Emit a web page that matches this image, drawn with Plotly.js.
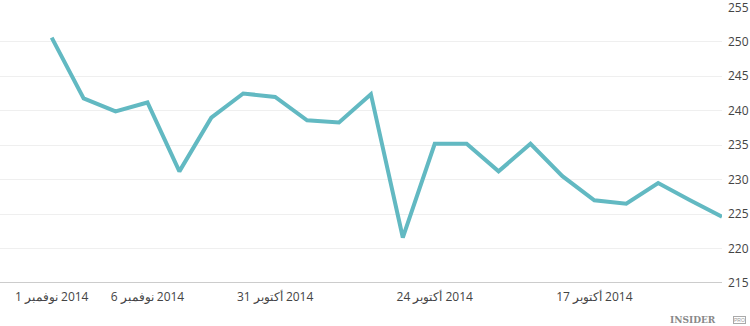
<!DOCTYPE html>
<html>
<head>
<meta charset="utf-8">
<script src="https://cdn.plot.ly/plotly-3.0.1.min.js"></script>
<style>html,body{margin:0;padding:0;background:#fff;}#chart{width:750px;height:326px;}</style>
</head>
<body>
<div id="chart"></div>
<script>
// Trading dates, newest first (axis runs right-to-left in time)
const dates = ["2014-11-11","2014-11-10","2014-11-07","2014-11-06","2014-11-05","2014-11-04","2014-11-03",
  "2014-10-31","2014-10-30","2014-10-29","2014-10-28","2014-10-27","2014-10-24","2014-10-23","2014-10-22",
  "2014-10-21","2014-10-20","2014-10-17","2014-10-16","2014-10-15","2014-10-14","2014-10-13"];
const values = [250.6, 241.8, 239.9, 241.2, 231.2, 239.0, 242.5, 242.0, 238.6, 238.3, 242.4, 221.6,
  235.2, 235.2, 231.2, 235.2, 230.5, 227.0, 226.5, 229.5, 227.0, 224.6];
const tickDates = ["2014-11-11","2014-11-06","2014-10-31","2014-10-24","2014-10-17"];
const tickLabels = ["1 نوفمبر\u200E 2014","6 نوفمبر\u200E 2014","31 أكتوبر\u200E 2014","24 أكتوبر\u200E 2014","17 أكتوبر\u200E 2014"];
const yTicks = [215,220,225,230,235,240,245,250,255];

const trace = {
  x: dates, y: values, type: 'scatter', mode: 'lines',
  line: {color: '#62b9c2', width: 4}, hoverinfo: 'none'
};
const layout = {
  width: 750, height: 326,
  margin: {l: 0, r: 28, t: 7, b: 43},
  paper_bgcolor: '#fff', plot_bgcolor: '#fff',
  showlegend: false,
  font: {family: '"Open Sans", "Noto Sans", sans-serif', size: 12, color: '#444'},
  xaxis: {
    type: 'category', range: [-1.62, 21],
    tickmode: 'array', tickvals: tickDates, ticktext: tickLabels,
    showgrid: false, zeroline: false, showline: false, ticks: '',
    ticklabelstandoff: 5,
    tickfont: {size: 12, color: '#444'}
  },
  yaxis: {
    side: 'right', range: [215, 255.05], tickmode: 'array', tickvals: yTicks,
    showgrid: true, gridcolor: '#efefef', gridwidth: 1, zeroline: false,
    showline: false, ticks: '', ticklabelstandoff: 5, ticklabeloverflow: 'allow',
    tickfont: {size: 12, color: '#444'}
  },
  shapes: [{type: 'line', xref: 'paper', yref: 'y', x0: 0, x1: 1, y0: 215, y1: 215,
    line: {color: '#999', width: 1}}],
  annotations: [
    {xref: 'paper', yref: 'paper', x: 0.995, y: -0.135, xanchor: 'right', yanchor: 'middle',
     text: '<b>INSIDER</b>', showarrow: false,
     font: {family: '"DejaVu Serif", "Liberation Serif", serif', size: 9, color: '#888'}},
    {xref: 'paper', yref: 'paper', x: 1.033, y: -0.135, xanchor: 'right', yanchor: 'middle',
     text: 'PRO', showarrow: false, bordercolor: '#aaa', borderwidth: 1, borderpad: 0,
     font: {family: 'sans-serif', size: 5, color: '#999'}}
  ]
};
Plotly.newPlot('chart', [trace], layout, {staticPlot: true, displayModeBar: false});
</script>
</body>
</html>
